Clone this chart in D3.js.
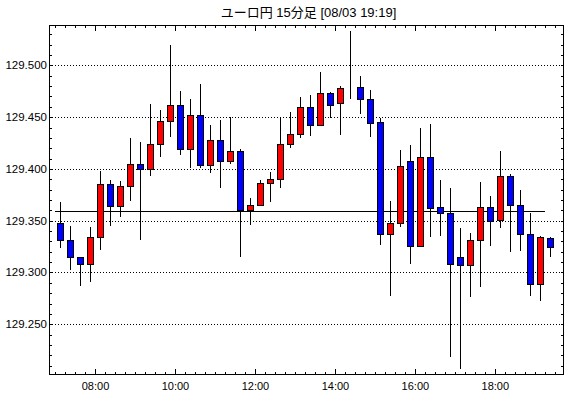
<!DOCTYPE html>
<html><head><meta charset="utf-8">
<script src="https://cdn.jsdelivr.net/npm/d3@7"></script>
<style>
body{margin:0;background:#fff;}
svg text{font-family:"Liberation Sans","Noto Sans CJK JP",sans-serif;}
</style></head>
<body><svg id="c" width="570" height="398"></svg>
<script>
const title = "ユーロ円 15分足 [08/03 19:19]";
const times = ["07:00","07:15","07:30","07:45","08:00","08:15","08:30","08:45","09:00","09:15",
"09:30","09:45","10:00","10:15","10:30","10:45","11:00","11:15","11:30","11:45",
"12:00","12:15","12:30","12:45","13:00","13:15","13:30","13:45","14:00","14:15",
"14:30","14:45","15:00","15:15","15:30","15:45","16:00","16:15","16:30","16:45",
"17:00","17:15","17:30","17:45","18:00","18:15","18:30","18:45","19:00","19:15"];
const open  = [129.348,129.331,129.315,129.308,129.334,129.385,129.364,129.384,129.405,129.400,
129.424,129.446,129.462,129.419,129.452,129.404,129.428,129.408,129.417,129.360,
129.365,129.386,129.390,129.424,129.434,129.460,129.442,129.473,129.464,129.478,
129.479,129.468,129.445,129.337,129.348,129.408,129.326,129.412,129.363,129.357,
129.315,129.307,129.331,129.363,129.351,129.393,129.365,129.337,129.289,129.333];
const high  = [129.368,129.345,129.315,129.344,129.398,129.389,129.388,129.430,129.426,129.463,
129.457,129.520,129.475,129.468,129.482,129.442,129.447,129.450,129.419,129.372,
129.389,129.397,129.450,129.455,129.469,129.471,129.494,129.474,129.480,129.533,
129.490,129.476,129.449,129.369,129.418,129.423,129.440,129.443,129.389,129.382,
129.343,129.338,129.387,129.374,129.417,129.395,129.380,129.357,129.335,129.334];
const low   = [129.324,129.302,129.287,129.291,129.322,129.345,129.354,129.369,129.331,129.393,
129.412,129.431,129.413,129.401,129.401,129.396,129.382,129.405,129.315,129.346,
129.364,129.368,129.382,129.420,129.430,129.432,129.442,129.449,129.433,129.468,
129.453,129.431,129.327,129.277,129.344,129.308,129.326,129.334,129.335,129.218,
129.207,129.276,129.286,129.326,129.343,129.320,129.321,129.277,129.272,129.315];
const close = [129.331,129.315,129.308,129.334,129.385,129.364,129.384,129.405,129.400,129.424,
129.446,129.462,129.419,129.452,129.404,129.428,129.408,129.417,129.360,129.365,
129.386,129.390,129.424,129.434,129.460,129.442,129.473,129.462,129.478,129.478,
129.468,129.444,129.337,129.348,129.403,129.326,129.412,129.362,129.357,129.308,
129.307,129.331,129.363,129.350,129.393,129.365,129.337,129.289,129.334,129.325];
const refPrice = 129.359;
const yGrid = [129.250,129.300,129.350,129.400,129.450,129.500];
const xTickLabels = ["08:00","10:00","12:00","14:00","16:00","18:00"];

const day = (s, addMin=0) => { const [h,m] = s.split(":").map(Number); return new Date(2021,7,3,h,m+addMin,0); };
const L=49, R=564, T=25, B=375;
const x = d3.scaleTime().domain([new Date(2021,7,3,6,50,15), new Date(2021,7,3,19,43,0)]).range([L,R]);
const y = d3.scaleLinear().domain([129.201,129.539]).range([B,T]);

const svg = d3.select("#c");
const g = svg.append("g");

// title
svg.append("text").attr("x",(L+R)/2+2).attr("y",17).attr("text-anchor","middle")
  .attr("font-size",13).attr("fill","#000").text(title);

// grid
g.selectAll("line.grid").data(yGrid).join("line").attr("class","grid")
  .attr("x1",L).attr("x2",R).attr("y1",d=>Math.round(y(d))+0.5).attr("y2",d=>Math.round(y(d))+0.5)
  .attr("stroke","#000").attr("stroke-dasharray","1,2").attr("stroke-width",1);

// y labels
g.selectAll("text.yl").data(yGrid).join("text").attr("class","yl")
  .attr("x",L-2).attr("y",d=>Math.round(y(d))+4).attr("text-anchor","end")
  .attr("font-size",11.5).attr("fill","#000").text(d=>d3.format(".3f")(d));

// minor y ticks
const yMinor = d3.range(0,34).map(i=>129.21+i*0.01).filter(v=>v<129.539);
g.selectAll("line.ytl").data(yMinor).join("line").attr("class","ytl")
  .attr("x1",L).attr("x2",L+3).attr("y1",d=>Math.round(y(d))+0.5).attr("y2",d=>Math.round(y(d))+0.5)
  .attr("stroke","#000");
g.selectAll("line.ytr").data(yMinor).join("line").attr("class","ytr")
  .attr("x1",R-3).attr("x2",R).attr("y1",d=>Math.round(y(d))+0.5).attr("y2",d=>Math.round(y(d))+0.5)
  .attr("stroke","#000");

// x ticks
const minorX = d3.timeMinute.every(15).range(x.domain()[0], x.domain()[1]);
const majorX = xTickLabels.map(s=>day(s));
const xr = d=>Math.round(x(d))+0.5;
g.selectAll("line.xtb").data(minorX).join("line").attr("class","xtb")
  .attr("x1",xr).attr("x2",xr).attr("y1",B).attr("y2",B-3).attr("stroke","#000");
g.selectAll("line.xtt").data(minorX).join("line").attr("class","xtt")
  .attr("x1",xr).attr("x2",xr).attr("y1",T).attr("y2",T+3).attr("stroke","#000");
g.selectAll("line.xMb").data(majorX).join("line").attr("class","xMb")
  .attr("x1",xr).attr("x2",xr).attr("y1",B).attr("y2",B-6).attr("stroke","#000");
g.selectAll("line.xMt").data(majorX).join("line").attr("class","xMt")
  .attr("x1",xr).attr("x2",xr).attr("y1",T).attr("y2",T+6).attr("stroke","#000");
g.selectAll("text.xl").data(majorX).join("text").attr("class","xl")
  .attr("x",d=>x(d)).attr("y",390).attr("text-anchor","middle")
  .attr("font-size",11).attr("fill","#000").text(d3.timeFormat("%H:%M"));

// reference line
g.append("line").attr("x1",Math.round(x(day(times[0])))).attr("x2",Math.round(x(day(times[times.length-1]))))
  .attr("y1",Math.round(y(refPrice))+0.5).attr("y2",Math.round(y(refPrice))+0.5)
  .attr("stroke","#000").attr("stroke-width",1);

// candles
const data = times.map((t,i)=>({t:day(t,7.5),o:open[i],h:high[i],l:low[i],c:close[i]}));
const cg = g.selectAll("g.candle").data(data).join("g").attr("class","candle");
cg.append("line")
  .attr("x1",d=>Math.round(x(d.t))+0.5).attr("x2",d=>Math.round(x(d.t))+0.5)
  .attr("y1",d=>Math.round(y(d.h))).attr("y2",d=>Math.round(y(d.l)))
  .attr("stroke","#000").attr("stroke-width",1);
cg.append("rect")
  .attr("x",d=>Math.round(x(d.t))-2.5).attr("width",6)
  .attr("y",d=>Math.round(y(Math.max(d.o,d.c)))+0.5)
  .attr("height",d=>Math.max(0,Math.round(y(Math.min(d.o,d.c)))-Math.round(y(Math.max(d.o,d.c)))))
  .attr("fill",d=>d.c>d.o?"#ff0000":(d.c<d.o?"#0000ff":"#000"))
  .attr("stroke","#000").attr("stroke-width",1);

// frame
g.append("rect").attr("x",L+0.5).attr("y",T+0.5).attr("width",R-L-1).attr("height",B-T-1)
  .attr("fill","none").attr("stroke","#000").attr("stroke-width",1);
</script></body></html>
